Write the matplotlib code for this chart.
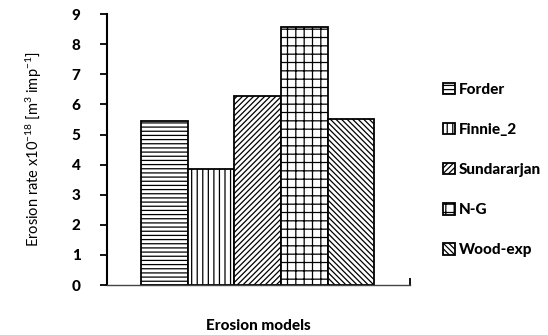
import matplotlib.pyplot as plt
import numpy as np

plt.rcParams['font.family'] = ['Lato', 'DejaVu Sans']
plt.rcParams['mathtext.fontset'] = 'custom'
plt.rcParams['mathtext.rm'] = 'Lato'
plt.rcParams['mathtext.default'] = 'regular'
plt.rcParams['hatch.linewidth'] = 0.9

# Erosion rates (x10^-18 m^3/impact)
models = ["Forder", "Finnie_2", "Sundararjan", "N-G", "Wood-exp"]
rates = [5.45, 3.84, 6.27, 8.58, 5.50]
hatches = ["----", "|||", "//////", "++", "\\\\\\\\\\\\"]

fig = plt.figure(figsize=(5.48, 3.35), dpi=100)
ax = fig.add_axes([0.195, 0.149, 0.553, 0.809])

x = np.arange(len(models))
for i, (m, r, h) in enumerate(zip(models, rates, hatches)):
    ax.bar(x[i], r, width=1.0, color="white", edgecolor="black",
           linewidth=1.3, hatch=h, label=m)

ax.set_xlim(-1.23, 5.26)
ax.set_ylim(0, 9)
ax.set_yticks(range(0, 10))
ax.set_yticklabels([str(v) for v in range(0, 10)], fontweight="black", fontsize=11)
ax.set_xticks([5.26])
ax.set_xticklabels([""])
ax.tick_params(axis="x", direction="in", length=5, width=1.3)
ax.tick_params(axis="y", direction="out", length=5, width=1.3, pad=14)

for s in ["top", "right"]:
    ax.spines[s].set_visible(False)
ax.spines["left"].set_linewidth(1.5)
ax.spines["bottom"].set_linewidth(1.0)
ax.spines["bottom"].set_color("#444444")

ax.set_ylabel("Erosion rate x10$^{-18}$ [m$^{3}$ imp$^{-1}$]", fontsize=10.5, labelpad=20)
ax.set_xlabel("Erosion models", fontsize=11, fontweight="black", labelpad=21)

fig.legend(loc="center left", bbox_to_anchor=(0.794, 0.493), frameon=False,
           handlelength=0.8, handleheight=0.8, handletextpad=0.25,
           labelspacing=1.7, borderpad=0,
           prop={"weight": "black", "size": 11})

fig.savefig("out.png", dpi=100)
